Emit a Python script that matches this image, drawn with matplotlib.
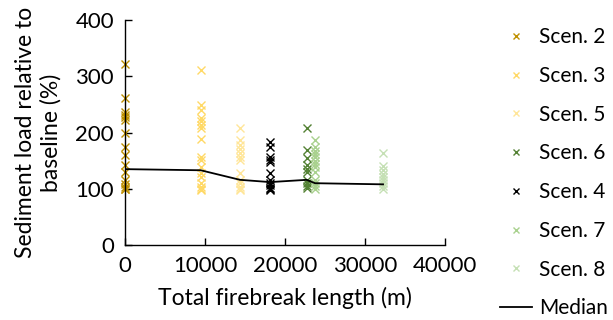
import numpy as np
import matplotlib.pyplot as plt
import matplotlib as mpl

plt.rcParams.update({'font.family': ['Lato', 'DejaVu Sans'], 'font.size': 16})

# firebreak length (m) per scenario and sediment load relative to baseline (%)
scen_names = ["Scen. 2", "Scen. 3", "Scen. 5", "Scen. 6", "Scen. 4", "Scen. 7", "Scen. 8"]
scen_x = [0, 9460, 14375, 22700, 18125, 23750, 32250]
scen_y = [
    [322, 261, 236, 232, 228, 222, 199, 174, 160, 142, 130, 116, 108, 103, 100, 100],
    [312, 249, 240, 226, 220, 214, 208, 188, 157, 151, 139, 128, 121, 110, 104, 100, 98],
    [208, 187, 178, 170, 164, 157, 151, 128, 116, 110, 104, 100, 98],
    [208, 169, 154, 142, 136, 130, 116, 110, 105, 101],
    [183, 174, 157, 152, 148, 128, 116, 110, 106, 102, 100, 98],
    [187, 174, 168, 162, 156, 150, 144, 138, 130, 116, 110, 105, 100],
    [163, 141, 133, 127, 121, 115, 110, 105, 100],
]
scen_colors = ["#bf9000", "#ffd966", "#ffe699", "#548235", "#000000", "#a9d18e", "#c5e0b4"]

median_x = [0, 9460, 14375, 18125, 22700, 23750, 32250]
median_y = [135, 133, 116, 112, 116, 110, 108]

fig = plt.figure(figsize=(6.13, 3.2), dpi=100)
ax = fig.add_axes([0.204, 0.234, 0.522, 0.7035])

handles = []
for name, x, ys, c in zip(scen_names, scen_x, scen_y, scen_colors):
    h, = ax.plot([x] * len(ys), ys, linestyle='none', marker='x', ms=6,
                 mew=1.0, color=c, label=name, clip_on=False)
    handles.append(h)

med, = ax.plot(median_x, median_y, color='black', lw=1.3, label='Median')
handles.append(med)

ax.set_xlim(0, 40000)
ax.set_ylim(0, 400)
ax.set_xticks([0, 10000, 20000, 30000, 40000])
ax.set_yticks([0, 100, 200, 300, 400])
ax.tick_params(direction='in', length=5, width=1, labelsize=16, pad=8)
for s in ['top', 'right']:
    ax.spines[s].set_visible(False)
for s in ['left', 'bottom']:
    ax.spines[s].set_linewidth(1)

ax.set_xlabel("Total firebreak length (m)", fontsize=16.5, labelpad=8)
ax.set_ylabel("Sediment load relative to\nbaseline (%)", fontsize=16.5, labelpad=10)

fig.legend(handles=handles, loc='upper left', bbox_to_anchor=(0.816, 0.915),
           frameon=False, fontsize=15, handlelength=1.55, labelspacing=0.9,
           handletextpad=0.3, borderaxespad=0, borderpad=0, markerscale=0.8)

fig.savefig("out.png", dpi=100)
